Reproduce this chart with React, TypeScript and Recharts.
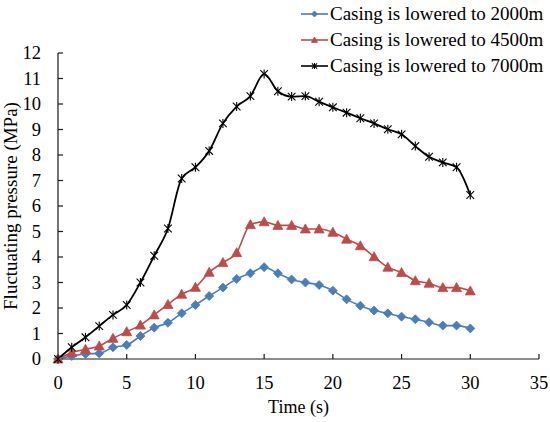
import { LineChart, Line, XAxis, YAxis, Legend, Label } from 'recharts'

const times = [0, 1, 2, 3, 4, 5, 6, 7, 8, 9, 10, 11, 12, 13, 14, 15, 16, 17, 18, 19, 20, 21, 22, 23, 24, 25, 26, 27, 28, 29, 30]

const casing2000 = [0, 0.12, 0.2, 0.22, 0.46, 0.55, 0.9, 1.23, 1.42, 1.79, 2.12, 2.47, 2.8, 3.14, 3.36, 3.6, 3.36, 3.12, 3.0, 2.9, 2.68, 2.34, 2.09, 1.9, 1.79, 1.66, 1.56, 1.44, 1.31, 1.31, 1.2]
const casing4500 = [0, 0.25, 0.38, 0.51, 0.81, 1.07, 1.33, 1.73, 2.14, 2.54, 2.81, 3.4, 3.78, 4.17, 5.27, 5.38, 5.24, 5.24, 5.1, 5.1, 4.97, 4.7, 4.44, 4.01, 3.6, 3.39, 3.07, 2.97, 2.8, 2.8, 2.67]
const casing7000 = [0, 0.46, 0.85, 1.29, 1.73, 2.12, 3.0, 4.05, 5.12, 7.08, 7.52, 8.16, 9.24, 9.9, 10.31, 11.18, 10.5, 10.29, 10.31, 10.09, 9.87, 9.66, 9.44, 9.24, 9.01, 8.81, 8.35, 7.93, 7.71, 7.52, 6.43]

const xTicks = [0, 5, 10, 15, 20, 25, 30, 35]
const yTicks = [0, 1, 2, 3, 4, 5, 6, 7, 8, 9, 10, 11, 12]

const rows = times.map((t, i) => ({
  t,
  c2000: casing2000[i],
  c4500: casing4500[i],
  c7000: casing7000[i],
}))

const FONT = 'Liberation Serif'
const AXIS = '#1a1a1a'

type Marker = 'diamond' | 'triangle' | 'star'

const series: { key: string; name: string; color: string; marker: Marker; width: number }[] = [
  { key: 'c2000', name: 'Casing is lowered to 2000m', color: '#4a7ebb', marker: 'diamond', width: 1.6 },
  { key: 'c4500', name: 'Casing is lowered to 4500m', color: '#be4b48', marker: 'triangle', width: 1.6 },
  { key: 'c7000', name: 'Casing is lowered to 7000m', color: '#000000', marker: 'star', width: 1.8 },
]

function markerShape(kind: Marker, cx: number, cy: number, color: string, r: number) {
  if (kind === 'diamond') {
    return (
      <polygon
        points={`${cx},${cy - r} ${cx + r},${cy} ${cx},${cy + r} ${cx - r},${cy}`}
        fill={color}
        stroke={color}
        strokeWidth={0.8}
      />
    )
  }
  if (kind === 'triangle') {
    return (
      <polygon
        points={`${cx},${cy - r} ${cx + r},${cy + r * 0.8} ${cx - r},${cy + r * 0.8}`}
        fill={color}
        stroke={color}
        strokeWidth={0.8}
      />
    )
  }
  const s = r * 0.85
  return (
    <g stroke={color} strokeWidth={1.1}>
      <line x1={cx - s} y1={cy - s} x2={cx + s} y2={cy + s} />
      <line x1={cx - s} y1={cy + s} x2={cx + s} y2={cy - s} />
      <line x1={cx} y1={cy - r} x2={cx} y2={cy + r} />
    </g>
  )
}

const makeDot = (kind: Marker, color: string) => (props: any) => {
  const { cx, cy, index } = props
  if (cx == null || cy == null) return <g key={index} />
  return <g key={index}>{markerShape(kind, cx, cy, color, kind === 'triangle' ? 5 : 4.5)}</g>
}

const XTick = (props: any) => (
  <text x={props.x} y={props.y} dy="0.71em" textAnchor="middle" fontFamily={FONT} fontSize={18.5} fill="#000">
    {props.payload.value}
  </text>
)

const YTick = (props: any) => (
  <text x={props.x} y={props.y} dy="0.34em" textAnchor="end" fontFamily={FONT} fontSize={18.5} fill="#000">
    {props.payload.value}
  </text>
)

function LegendBox() {
  return (
    <div style={{ fontFamily: FONT, fontSize: 19, color: '#000', lineHeight: '26px' }}>
      {series.map((s) => (
        <div key={s.key} style={{ display: 'flex', alignItems: 'center', height: 26, whiteSpace: 'nowrap' }}>
          <svg width={29} height={12} style={{ marginRight: 1 }}>
            <line x1={1} y1={6} x2={28} y2={6} stroke={s.color} strokeWidth={1.6} />
            {markerShape(s.marker, 14.5, 6, s.color, 3)}
          </svg>
          <span>{s.name}</span>
        </div>
      ))}
    </div>
  )
}

export default function App() {
  return (
    <div style={{ position: 'absolute', left: 0, top: 0, width: 550, height: 422, background: '#fff' }}>
      <LineChart width={550} height={422} data={rows} margin={{ top: 53, right: 11, bottom: 0, left: 0 }}>
        <XAxis
          dataKey="t"
          type="number"
          domain={[0, 35]}
          ticks={xTicks}
          interval={0}
          height={63}
          tickSize={-5}
          tickMargin={22}
          axisLine={{ stroke: AXIS, strokeWidth: 1.2 }}
          tickLine={{ stroke: AXIS, strokeWidth: 1.2 }}
          tick={<XTick />}
        >
          <Label
            content={(p: any) => {
              const vb = p.viewBox
              return (
                <text x={vb.x + vb.width / 2} y={vb.y + 54} textAnchor="middle" fontFamily={FONT} fontSize={18} fill="#000">
                  Time (s)
                </text>
              )
            }}
          />
        </XAxis>
        <YAxis
          type="number"
          domain={[0, 12]}
          ticks={yTicks}
          interval={0}
          width={58}
          tickSize={-5}
          tickMargin={22}
          axisLine={{ stroke: AXIS, strokeWidth: 1.2 }}
          tickLine={{ stroke: AXIS, strokeWidth: 1.2 }}
          tick={<YTick />}
        >
          <Label
            content={(p: any) => {
              const vb = p.viewBox
              const cy = vb.y + vb.height / 2
              return (
                <text
                  x={17}
                  y={cy}
                  transform={`rotate(-90, 17, ${cy})`}
                  textAnchor="middle"
                  fontFamily={FONT}
                  fontSize={19}
                  fill="#000"
                >
                  Fluctuating pressure (MPa)
                </text>
              )
            }}
          />
        </YAxis>
        <Legend
          layout="vertical"
          align="center"
          verticalAlign="middle"
          wrapperStyle={{ top: 1, left: 300, width: 250, height: 80 }}
          content={() => <LegendBox />}
        />
        {series.map((s) => (
          <Line
            key={s.key}
            type="monotone"
            dataKey={s.key}
            name={s.name}
            stroke={s.color}
            strokeWidth={s.width}
            dot={makeDot(s.marker, s.color)}
            activeDot={false}
            isAnimationActive={false}
          />
        ))}
      </LineChart>
    </div>
  )
}
